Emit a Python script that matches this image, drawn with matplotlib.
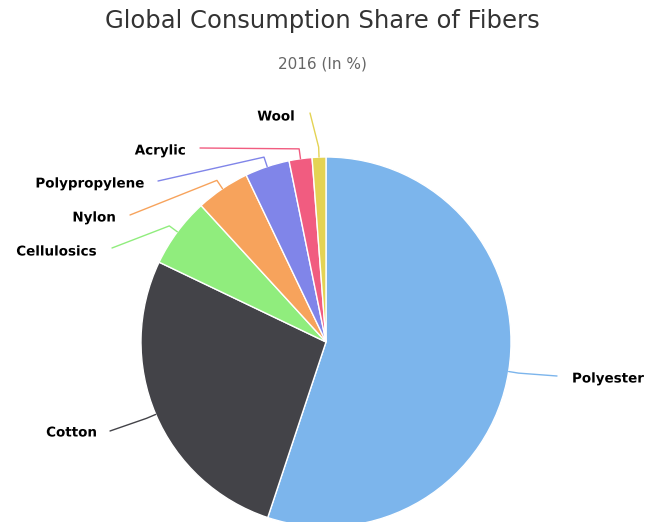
import matplotlib
matplotlib.use('Agg')
import matplotlib.pyplot as plt
import matplotlib.patheffects as pe
import numpy as np

# fiber shares, 2016 (%)
fibers = ['Polyester', 'Cotton', 'Cellulosics', 'Nylon', 'Polypropylene', 'Acrylic', 'Wool']
shares = [55.1, 27.0, 6.1, 4.7, 3.9, 2.0, 1.2]
colors = ['#7cb5ec', '#434348', '#90ed7d', '#f7a35c', '#8085e9', '#f15c80', '#e4d354']

# label anchor points (pixels from top-left) and alignment
label_xy = [(572, 379), (97, 433), (97, 252), (116, 218), (145, 184), (186, 151), (295, 117)]
label_ha = ['left', 'right', 'right', 'right', 'right', 'right', 'right']
conn_start = [(557, 376), (110, 431), (112, 248), (130, 215), (158, 181), (200, 148), (310, 113)]

W, H = 645, 522
CX, CY, R = 326, 342, 185

fig = plt.figure(figsize=(W / 100, H / 100), dpi=100)
ax = fig.add_axes([0, 0, 1, 1])

wedges, _ = ax.pie(shares, colors=colors, startangle=90, counterclock=False,
                   center=(CX, H - CY), radius=R,
                   wedgeprops=dict(edgecolor='white', linewidth=1))
ax.set_xlim(0, W)
ax.set_ylim(0, H)
ax.set_aspect('equal')
ax.axis('off')

# connectors: label -> crook point -> slice edge
total = sum(shares)
cum = 0.0
for i, v in enumerate(shares):
    mid = np.deg2rad((cum + v / 2) / total * 360)
    cum += v
    dx, dy = np.sin(mid), np.cos(mid)
    ex, ey = CX + R * dx, (H - CY) + R * dy
    kx, ky = CX + (R + 10) * dx, (H - CY) + (R + 10) * dy
    sx, sy = conn_start[i]
    ax.plot([sx, kx, ex], [H - sy, ky, ey], color=colors[i], lw=1, solid_capstyle='round')
    lx, ly = label_xy[i]
    ax.text(lx, H - ly, fibers[i], ha=label_ha[i], va='center', fontsize=9.7,
            fontweight='bold', color='black',
            path_effects=[pe.withStroke(linewidth=1.5, foreground='white')])

ax.text(W / 2, H - 21, 'Global Consumption Share of Fibers', ha='center', va='center',
        fontsize=17.5, color='#333333')
ax.text(W / 2, H - 64, '2016 (In %)', ha='center', va='center', fontsize=11, color='#666666')

fig.savefig('out.png', dpi=100)
